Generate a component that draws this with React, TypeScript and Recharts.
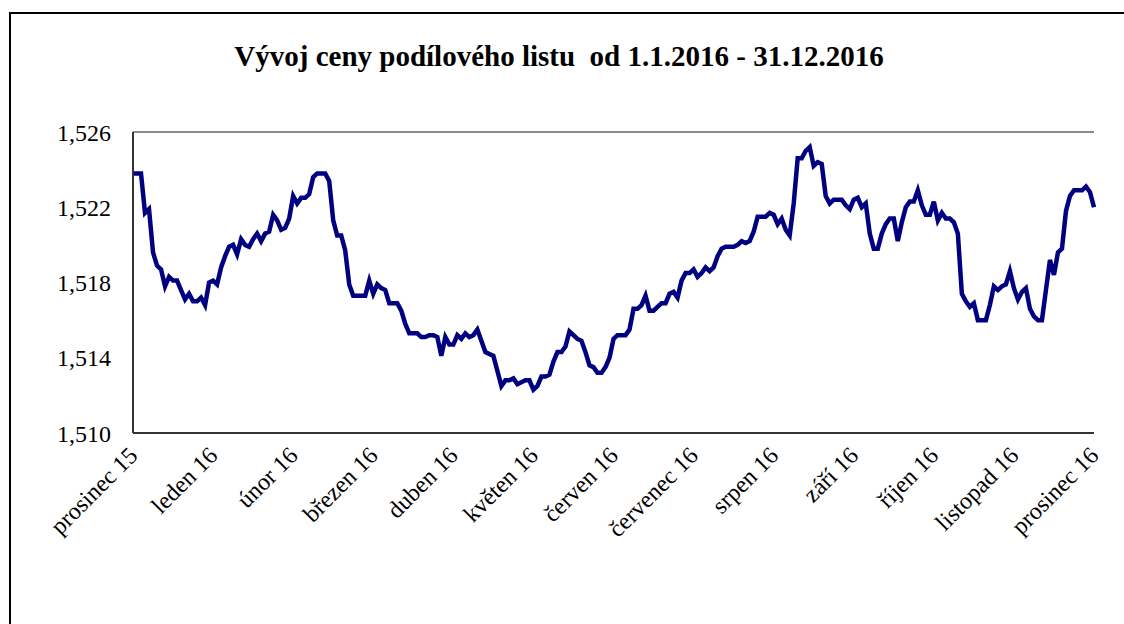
import React from "react";
import { LineChart, Line, XAxis, YAxis, CartesianGrid, ReferenceLine } from "recharts";

// Vývoj ceny podílového listu – denní hodnoty 2016

const TITLE = "Vývoj ceny podílového listu  od 1.1.2016 - 31.12.2016";

const MONTHS = [
  "prosinec 15", "leden 16", "únor 16", "březen 16", "duben 16", "květen 16",
  "červen 16", "červenec 16", "srpen 16", "září 16", "říjen 16", "listopad 16",
  "prosinec 16",
];

const Y_TICKS = [1.51, 1.514, 1.518, 1.522, 1.526];

const PRICES = [
  1.5238, 1.5238, 1.5238, 1.5217, 1.5219, 1.5196, 1.5189, 1.5187, 1.5178, 1.5183,
  1.5181, 1.5181, 1.5176, 1.5171, 1.5174, 1.517, 1.517, 1.5172, 1.5168, 1.518,
  1.5181, 1.5179, 1.5188, 1.5194, 1.5199, 1.52, 1.5195, 1.5203, 1.52, 1.5199,
  1.5203, 1.5206, 1.5202, 1.5206, 1.5207, 1.5216, 1.5213, 1.5208, 1.5209, 1.5214,
  1.5226, 1.5222, 1.5225, 1.5225, 1.5227, 1.5236, 1.5238, 1.5238, 1.5238, 1.5234,
  1.5213, 1.5205, 1.5205, 1.5197, 1.5179, 1.5173, 1.5173, 1.5173, 1.5173, 1.5181,
  1.5174, 1.5179, 1.5177, 1.5176, 1.5169, 1.5169, 1.5169, 1.5165, 1.5158, 1.5153,
  1.5153, 1.5153, 1.5151, 1.5151, 1.5152, 1.5152, 1.5151, 1.5141, 1.5151, 1.5147,
  1.5147, 1.5152, 1.515, 1.5153, 1.5151, 1.5152, 1.5155, 1.5149, 1.5143, 1.5142,
  1.5141, 1.5133, 1.5125, 1.5128, 1.5128, 1.5129, 1.5126, 1.5127, 1.5128, 1.5128,
  1.5123, 1.5125, 1.513, 1.513, 1.5131, 1.5138, 1.5143, 1.5143, 1.5146, 1.5154,
  1.5152, 1.515, 1.5149, 1.5143, 1.5136, 1.5135, 1.5132, 1.5132, 1.5135, 1.514,
  1.515, 1.5152, 1.5152, 1.5152, 1.5155, 1.5166, 1.5166, 1.5168, 1.5173, 1.5165,
  1.5165, 1.5167, 1.5169, 1.5169, 1.5174, 1.5175, 1.5172, 1.5181, 1.5185, 1.5185,
  1.5187, 1.5183, 1.5185, 1.5188, 1.5186, 1.5188, 1.5194, 1.5198, 1.5199, 1.5199,
  1.5199, 1.52, 1.5202, 1.5201, 1.5202, 1.5207, 1.5215, 1.5215, 1.5215, 1.5217,
  1.5216, 1.5211, 1.5214, 1.5208, 1.5205, 1.5222, 1.5246, 1.5246, 1.525, 1.5252,
  1.5242, 1.5244, 1.5243, 1.5226, 1.5222, 1.5224, 1.5224, 1.5224, 1.5221, 1.5219,
  1.5224, 1.5225, 1.522, 1.5222, 1.5206, 1.5198, 1.5198, 1.5206, 1.5211, 1.5214,
  1.5214, 1.5202, 1.5212, 1.522, 1.5223, 1.5223, 1.5229, 1.5221, 1.5216, 1.5216,
  1.5223, 1.5213, 1.5217, 1.5214, 1.5214, 1.5212, 1.5206, 1.5174, 1.517, 1.5167,
  1.5169, 1.516, 1.516, 1.516, 1.5168, 1.5178, 1.5176, 1.5178, 1.5179, 1.5186,
  1.5177, 1.5171, 1.5175, 1.5177, 1.5166, 1.5162, 1.516, 1.516, 1.5176, 1.5192,
  1.5184, 1.5196, 1.5198, 1.5218, 1.5226, 1.5229, 1.5229, 1.5229, 1.5231, 1.5228,
  1.522,
];

const FONT = "'Times New Roman', 'Liberation Serif', serif";

const data = PRICES.map((v, i) => ({ i, v }));
const last = PRICES.length - 1;
const monthTicks = MONTHS.map((_, k) => (k * last) / 12);

const monthLabel = (value: number) => MONTHS[Math.round((value * 12) / last)] ?? "";

const MonthTick = (props: any) => {
  const { x, y, payload } = props;
  const ax = x + 6;
  const ay = y + 22;
  return (
    <text
      x={ax}
      y={ay}
      transform={`rotate(-45 ${ax} ${ay})`}
      textAnchor="end"
      fontFamily={FONT}
      fontSize={24}
      fill="#000"
    >
      {monthLabel(payload.value)}
    </text>
  );
};

export default function App() {
  return (
    <div style={{ position: "absolute", left: 0, top: 0, width: 1124, height: 624, background: "#fff", overflow: "hidden" }}>
      {/* outer frame (only left and top edges are in view) */}
      <div
        style={{
          position: "absolute",
          left: 9,
          top: 12,
          width: 1200,
          height: 700,
          borderLeft: "2px solid #000",
          borderTop: "2px solid #000",
        }}
      />
      <div
        style={{
          position: "absolute",
          left: 0,
          top: 40,
          width: 1118,
          textAlign: "center",
          fontFamily: FONT,
          fontWeight: "bold",
          fontSize: 29,
          lineHeight: "32px",
          whiteSpace: "pre",
          color: "#000",
        }}
      >
        {TITLE}
      </div>
      <div style={{ position: "absolute", left: 0, top: 0 }}>
        <LineChart width={1124} height={624} data={data} margin={{ top: 132, right: 30, bottom: 0, left: 0 }}>
          <CartesianGrid vertical={false} stroke="#000" strokeWidth={1} />
          <XAxis
            dataKey="i"
            type="number"
            domain={[0, last]}
            ticks={monthTicks}
            interval={0}
            height={191}
            tickLine={false}
            tickSize={0}
            axisLine={{ stroke: "#333", strokeWidth: 2 }}
            tick={<MonthTick />}
          />
          <YAxis
            yAxisId="l"
            domain={[Y_TICKS[0], Y_TICKS[Y_TICKS.length - 1]]}
            ticks={Y_TICKS}
            interval={0}
            width={133}
            tickLine={false}
            tickSize={0}
            tickMargin={22}
            axisLine={{ stroke: "#333", strokeWidth: 2 }}
            tickFormatter={(v: number) => v.toFixed(3).replace(".", ",")}
            tick={{ fontFamily: FONT, fontSize: 24, fill: "#000" }}
          />
          <YAxis
            yAxisId="r"
            orientation="right"
            domain={[Y_TICKS[0], Y_TICKS[Y_TICKS.length - 1]]}
            width={0}
            tick={false}
            tickLine={false}
            axisLine={{ stroke: "#8c8c8c", strokeWidth: 2 }}
          />
          <ReferenceLine yAxisId="l" y={Y_TICKS[Y_TICKS.length - 1]} stroke="#8c8c8c" strokeWidth={2} />
          <Line
            yAxisId="l"
            type="linear"
            dataKey="v"
            stroke="#000080"
            strokeWidth={4.5}
            dot={false}
            isAnimationActive={false}
          />
        </LineChart>
      </div>
    </div>
  );
}
